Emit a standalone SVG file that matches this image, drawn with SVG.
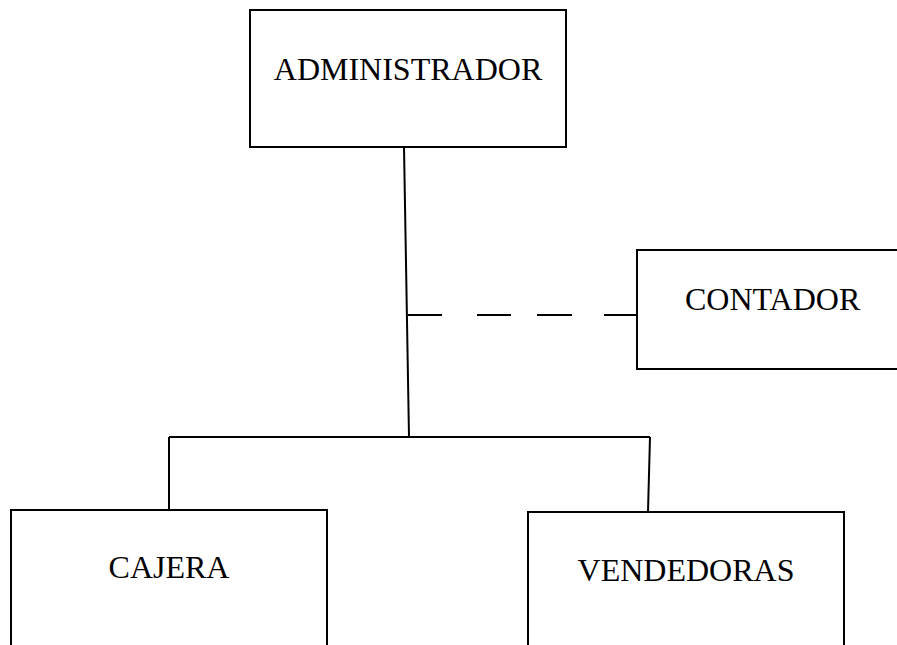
<svg xmlns="http://www.w3.org/2000/svg" width="897" height="645" viewBox="0 0 897 645">
<style>
.box{fill:#fff;stroke:#000;stroke-width:2}
.lbl{font-family:"Liberation Serif","Times New Roman",serif;font-size:32px;fill:#000}
.ln{fill:none;stroke:#000;stroke-width:2}
</style>
<rect width="897" height="645" fill="#fff"/>
<g id="connectors">
<path class="ln" d="M404,147 L409,437"/>
<path class="ln" d="M169,437 L650,437"/>
<path class="ln" d="M169,437 L169,510"/>
<path class="ln" d="M650,437 L648,512"/>
<path class="ln" d="M408,315 L637,315" stroke-dasharray="34,35,34,26,35,32,40"/>
</g>
<g id="administrador">
<rect class="box" x="250" y="10" width="316" height="137"/>
<text class="lbl" x="408" y="80" text-anchor="middle">ADMINISTRADOR</text>
</g>
<g id="contador">
<rect class="box" x="637" y="250" width="280" height="119"/>
<text class="lbl" x="685" y="310">CONTADOR</text>
</g>
<g id="cajera">
<rect class="box" x="11" y="510" width="316" height="160"/>
<text class="lbl" x="169" y="578" text-anchor="middle">CAJERA</text>
</g>
<g id="vendedoras">
<rect class="box" x="528" y="512" width="316" height="160"/>
<text class="lbl" x="686" y="581" text-anchor="middle">VENDEDORAS</text>
</g>
</svg>
